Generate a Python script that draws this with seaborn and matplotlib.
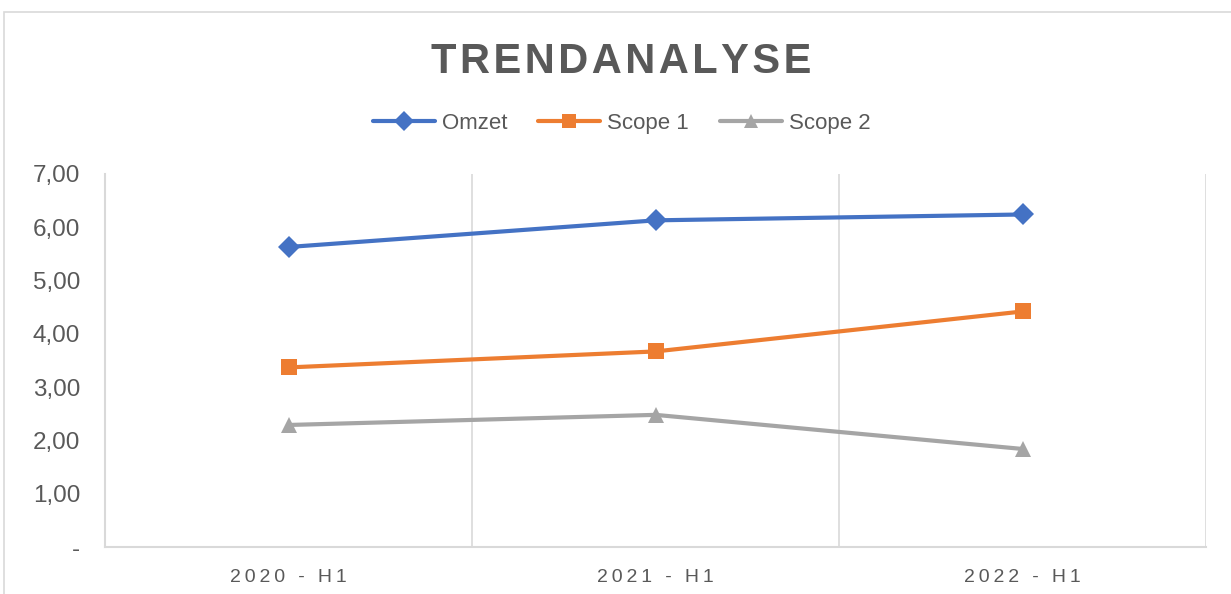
import pandas as pd
import numpy as np
import matplotlib.pyplot as plt
import seaborn as sns
from matplotlib.ticker import FuncFormatter
from matplotlib.patches import Rectangle

# Data
periods = ["2020 - H1", "2021 - H1", "2022 - H1"]
omzet = [5.63, 6.13, 6.24]
scope1 = [3.37, 3.67, 4.42]
scope2 = [2.29, 2.48, 1.84]
series_names = ["Omzet", "Scope 1", "Scope 2"]

df = pd.DataFrame({
    "periode": periods * 3,
    "waarde": omzet + scope1 + scope2,
    "reeks": [n for n in series_names for _ in periods],
})

sns.set_theme(style="white")
plt.rcParams['font.family'] = ['Liberation Sans', 'DejaVu Sans']
text_col = "#595959"
grid_col = "#D9D9D9"
palette = {"Omzet": "#4472C4", "Scope 1": "#ED7D31", "Scope 2": "#A5A5A5"}
markers = {"Omzet": "D", "Scope 1": "s", "Scope 2": "^"}


def spaced(s, sep):
    # imitate the wide letter spacing of the original
    return sep.join(s)


fig = plt.figure(figsize=(12.31, 5.94), dpi=100)
ax = fig.add_axes([0.0853, 0.0791, 0.8944, 0.628])

sns.lineplot(data=df, x="periode", y="waarde", hue="reeks", style="reeks",
             palette=palette, markers=markers, dashes=False, linewidth=3,
             markersize=11, markeredgewidth=0, sort=False, ax=ax)

ax.set_xlim(-0.5, 2.5)
ax.set_ylim(0, 7)
ax.set_yticks(np.arange(0, 8, 1))
ax.yaxis.set_major_formatter(FuncFormatter(
    lambda v, p: "-" if v == 0 else f"{v:.2f}".replace(".", ",")))

# vertical separators between categories
for xb in [0.5, 1.5, 2.5]:
    ax.axvline(xb, color=grid_col, lw=1.2, zorder=0)

for s in ["top", "right"]:
    ax.spines[s].set_visible(False)
for s in ["left", "bottom"]:
    ax.spines[s].set_color(grid_col)
    ax.spines[s].set_linewidth(1.5)

ax.tick_params(axis="y", labelsize=17.5, colors=text_col, length=0, pad=18)
ax.tick_params(axis="x", length=0, pad=16)
ax.set_xticks(range(len(periods)))
ax.set_xticklabels([spaced(p, "\u2009") for p in periods], fontsize=14, color=text_col)
ax.set_xlabel("")
ax.set_ylabel("")

fig.text(0.505, 1 - 73 / 594, spaced("TRENDANALYSE", "\u200a"), ha="center",
         va="baseline", fontsize=30, fontweight="bold", color=text_col)

handles, labels = ax.get_legend_handles_labels()
for h in handles:
    h.set_markersize(10)
ax.legend(handles, labels, loc="center", bbox_to_anchor=(0.505, 0.792),
          bbox_transform=fig.transFigure, ncol=3, frameon=False,
          fontsize=16, labelcolor=text_col, handlelength=2.8,
          handletextpad=0.3, columnspacing=1.4)

fig.patches.append(Rectangle((0.0033, -0.01), 1.2, 0.99, transform=fig.transFigure,
                             fill=False, edgecolor=grid_col, lw=1.2))

fig.savefig("out.png", dpi=100)
